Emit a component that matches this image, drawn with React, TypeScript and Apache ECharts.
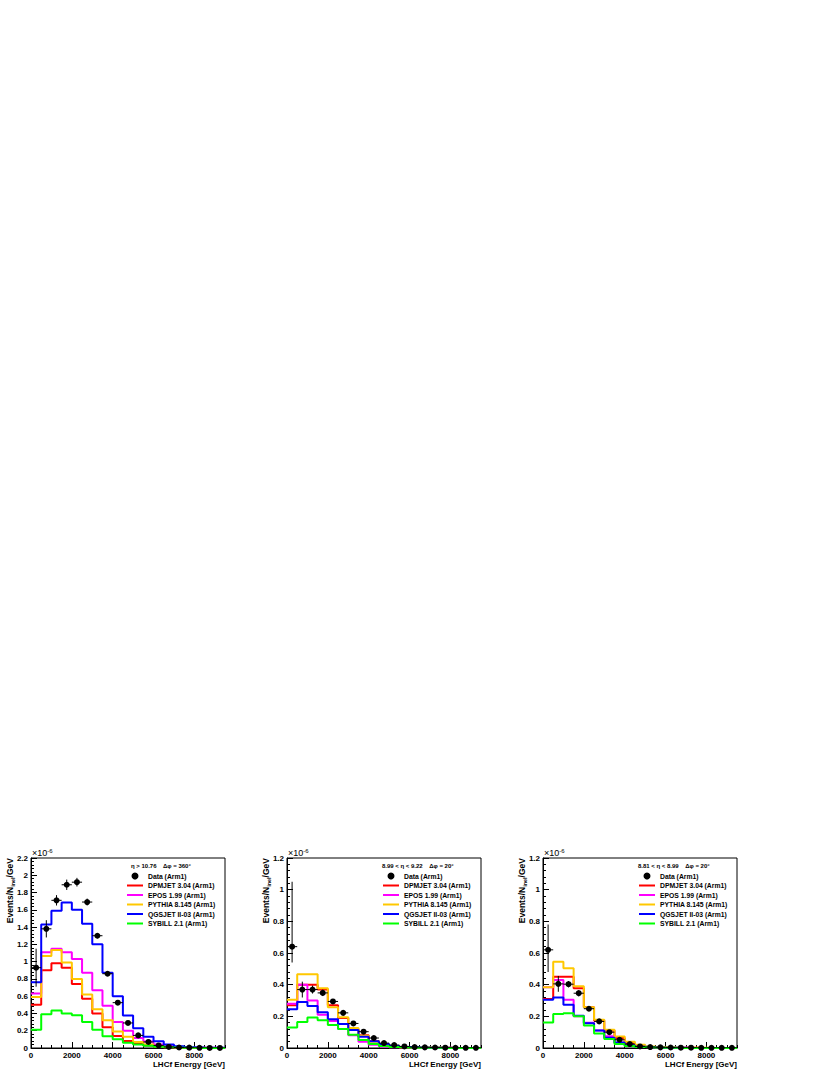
import React, { useEffect, useRef } from "react";
import * as echarts from "echarts";

const FONT = "'Liberation Sans', Arial, Helvetica, sans-serif";

const energyEdges = [0, 500, 1000, 1500, 2000, 2500, 3000, 3500, 4000, 4500, 5000, 5500, 6000, 6500, 7000, 7500, 8000, 8500, 9000, 9500];
const binCenters = [250, 750, 1250, 1750, 2250, 2750, 3250, 3750, 4250, 4750, 5250, 5750, 6250, 6750, 7250, 7750, 8250, 8750, 9250];
const xTickLabels = ["0", "2000", "4000", "6000", "8000"];

const modelNames = ["DPMJET 3.04 (Arm1)", "EPOS 1.99 (Arm1)", "PYTHIA 8.145 (Arm1)", "QGSJET II-03 (Arm1)", "SYBILL 2.1 (Arm1)"];
const modelColors = ["#ff0000", "#ff00ff", "#ffc800", "#0000ff", "#00ff00"];
const dataName = "Data (Arm1)";

const panelTitles = ["\u03b7 > 10.76    \u0394\u03c6 = 360\u00b0", "8.99 < \u03b7 < 9.22    \u0394\u03c6 = 20\u00b0", "8.81 < \u03b7 < 8.99    \u0394\u03c6 = 20\u00b0"];
const yMaxes = [2.2, 1.2, 1.2];

// Panel 1 : eta > 10.76
const data1 = [0.93, 1.38, 1.71, 1.89, 1.92, 1.69, 1.30, 0.86, 0.525, 0.29, 0.146, 0.07, 0.03, 0.012, 0.006, 0.004, 0.002, 0.001, 0.001];
const errLo1 = [0.22, 0.1, 0.06, 0.06, 0.05, 0.04, 0.03, 0.02, 0.02, 0.015, 0.01, 0.008, 0.005, 0.004, 0.003, 0.002, 0.002, 0.001, 0.001];
const errHi1 = [0.22, 0.1, 0.06, 0.06, 0.05, 0.04, 0.03, 0.02, 0.02, 0.015, 0.01, 0.008, 0.005, 0.004, 0.003, 0.002, 0.002, 0.001, 0.001];
const dpmjet1 = [0.50, 0.90, 0.98, 0.93, 0.74, 0.57, 0.40, 0.24, 0.14, 0.08, 0.05, 0.03, 0.015, 0.008, 0.004, 0.002, 0.001, 0.001, 0.0005];
const epos1 = [0.63, 1.11, 1.15, 1.11, 1.03, 0.87, 0.67, 0.49, 0.30, 0.20, 0.115, 0.075, 0.04, 0.02, 0.01, 0.005, 0.003, 0.002, 0.001];
const pythia1 = [0.59, 1.065, 1.135, 0.99, 0.80, 0.62, 0.45, 0.32, 0.19, 0.13, 0.07, 0.04, 0.02, 0.01, 0.005, 0.003, 0.002, 0.001, 0.001];
const qgsjet1 = [0.76, 1.43, 1.59, 1.685, 1.60, 1.44, 1.20, 0.87, 0.60, 0.375, 0.23, 0.13, 0.077, 0.04, 0.02, 0.01, 0.006, 0.003, 0.002];
const sybill1 = [0.21, 0.39, 0.435, 0.40, 0.38, 0.30, 0.21, 0.135, 0.10, 0.06, 0.04, 0.025, 0.015, 0.008, 0.004, 0.002, 0.001, 0.001, 0.0005];

// Panel 2 : 8.99 < eta < 9.22
const data2 = [0.64, 0.369, 0.369, 0.348, 0.294, 0.222, 0.155, 0.103, 0.063, 0.031, 0.019, 0.01, 0.006, 0.004, 0.003, 0.002, 0.001, 0.001, 0.001];
const errLo2 = [0.1, 0.05, 0.025, 0.02, 0.015, 0.012, 0.01, 0.008, 0.006, 0.004, 0.003, 0.002, 0.002, 0.001, 0.001, 0.001, 0.001, 0.001, 0.001];
const errHi2 = [0.41, 0.05, 0.025, 0.02, 0.015, 0.012, 0.01, 0.008, 0.006, 0.004, 0.003, 0.002, 0.002, 0.001, 0.001, 0.001, 0.001, 0.001, 0.001];
const dpmjet2 = [0.27, 0.40, 0.40, 0.37, 0.27, 0.19, 0.12, 0.08, 0.045, 0.02, 0.01, 0.005, 0.003, 0.002, 0.001, 0.001, 0.0005, 0.0003, 0.0002];
const epos2 = [0.28, 0.40, 0.30, 0.21, 0.17, 0.12, 0.08, 0.04, 0.02, 0.01, 0.005, 0.003, 0.002, 0.001, 0.001, 0.0005, 0.0003, 0.0002, 0.0001];
const pythia2 = [0.305, 0.466, 0.466, 0.378, 0.258, 0.195, 0.126, 0.077, 0.04, 0.02, 0.01, 0.005, 0.003, 0.002, 0.001, 0.001, 0.0005, 0.0003, 0.0002];
const qgsjet2 = [0.245, 0.29, 0.265, 0.226, 0.182, 0.151, 0.113, 0.071, 0.043, 0.025, 0.012, 0.007, 0.004, 0.002, 0.001, 0.001, 0.0005, 0.0003, 0.0002];
const sybill2 = [0.13, 0.165, 0.192, 0.176, 0.145, 0.12, 0.084, 0.05, 0.025, 0.012, 0.006, 0.003, 0.002, 0.001, 0.001, 0.0005, 0.0003, 0.0002, 0.0001];

// Panel 3 : 8.81 < eta < 8.99
const data3 = [0.62, 0.405, 0.403, 0.346, 0.248, 0.168, 0.10, 0.052, 0.025, 0.01, 0.006, 0.004, 0.003, 0.002, 0.002, 0.001, 0.001, 0.001, 0.001];
const errLo3 = [0.14, 0.05, 0.02, 0.02, 0.015, 0.012, 0.01, 0.008, 0.005, 0.003, 0.002, 0.002, 0.001, 0.001, 0.001, 0.001, 0.001, 0.001, 0.001];
const errHi3 = [0.16, 0.05, 0.02, 0.02, 0.015, 0.012, 0.01, 0.008, 0.005, 0.003, 0.002, 0.002, 0.001, 0.001, 0.001, 0.001, 0.001, 0.001, 0.001];
const dpmjet3 = [0.31, 0.45, 0.45, 0.378, 0.258, 0.174, 0.11, 0.063, 0.03, 0.014, 0.007, 0.004, 0.002, 0.001, 0.001, 0.0005, 0.0003, 0.0002, 0.0001];
const epos3 = [0.384, 0.43, 0.304, 0.20, 0.16, 0.11, 0.075, 0.033, 0.015, 0.007, 0.003, 0.002, 0.001, 0.001, 0.0005, 0.0003, 0.0002, 0.0001, 0.0001];
const pythia3 = [0.384, 0.545, 0.503, 0.39, 0.258, 0.178, 0.115, 0.073, 0.04, 0.02, 0.01, 0.005, 0.003, 0.002, 0.001, 0.001, 0.0005, 0.0003, 0.0002];
const qgsjet3 = [0.304, 0.319, 0.273, 0.203, 0.157, 0.111, 0.065, 0.035, 0.017, 0.008, 0.004, 0.002, 0.001, 0.001, 0.0005, 0.0003, 0.0002, 0.0001, 0.0001];
const sybill3 = [0.161, 0.214, 0.22, 0.20, 0.142, 0.092, 0.057, 0.025, 0.012, 0.006, 0.003, 0.001, 0.001, 0.0005, 0.0003, 0.0002, 0.0001, 0.0001, 0.0001];

const panelData = [
  { data: data1, lo: errLo1, hi: errHi1, models: [dpmjet1, epos1, pythia1, qgsjet1, sybill1] },
  { data: data2, lo: errLo2, hi: errHi2, models: [dpmjet2, epos2, pythia2, qgsjet2, sybill2] },
  { data: data3, lo: errLo3, hi: errHi3, models: [dpmjet3, epos3, pythia3, qgsjet3, sybill3] },
];

// layout (pixels)
const gridLefts = [31, 287, 543];
const gridTop = 858;
const gridW = 194;
const gridH = 190;
const LINE_ICON = "path://M0,0M0,2.5L16,2.5L16,4.5L0,4.5ZM16,7";

function buildOption() {
  const grid: any[] = [];
  const xAxis: any[] = [];
  const yAxis: any[] = [];
  const series: any[] = [];
  const legend: any[] = [];
  const title: any[] = [];
  const graphic: any[] = [];

  panelData.forEach((p, i) => {
    const left = gridLefts[i];
    grid.push({ left, top: gridTop, width: gridW, height: gridH, show: true, borderColor: "#000", borderWidth: 1, backgroundColor: "transparent" });
    xAxis.push({
      gridIndex: i, type: "value", min: energyEdges[0], max: energyEdges[energyEdges.length - 1], interval: 2000, position: "bottom",
      axisLine: { show: true, onZero: false, lineStyle: { color: "#000", width: 1 } },
      axisTick: { show: true, inside: true, length: 6, lineStyle: { color: "#000", width: 1 } },
      axisLabel: {
        show: true, color: "#000", fontSize: 8, fontWeight: "bold", fontFamily: FONT, margin: 3, showMaxLabel: false,
        formatter: (v: number) => { const s = String(Math.round(v)); return xTickLabels.indexOf(s) >= 0 ? s : ""; },
      },
      splitLine: { show: false },
    });
    xAxis.push({
      gridIndex: i, type: "value", min: energyEdges[0], max: energyEdges[energyEdges.length - 1], interval: 500, position: "bottom",
      axisLine: { show: false }, axisTick: { show: true, inside: true, length: 3, lineStyle: { color: "#000", width: 1 } },
      axisLabel: { show: false }, splitLine: { show: false },
    });
    yAxis.push({
      gridIndex: i, type: "value", min: 0, max: yMaxes[i], interval: 0.2,
      axisLine: { show: true, onZero: false, lineStyle: { color: "#000", width: 1 } },
      axisTick: { show: true, inside: true, length: 6, lineStyle: { color: "#000", width: 1 } },
      minorTick: { show: true, splitNumber: 5, length: 3, lineStyle: { color: "#000", width: 1 } },
      axisLabel: { color: "#000", fontSize: 8, fontWeight: "bold", fontFamily: FONT, margin: 3, formatter: (v: number) => String(+v.toFixed(1)) },
      splitLine: { show: false },
    });

    p.models.forEach((vals, m) => {
      const pts: number[][] = vals.map((v, k) => [energyEdges[k], v]);
      pts.push([energyEdges[vals.length], vals[vals.length - 1]]);
      series.push({
        type: "line", name: modelNames[m], xAxisIndex: 2 * i, yAxisIndex: i, step: "end", symbol: "none", showSymbol: false,
        data: pts, lineStyle: { color: modelColors[m], width: 2 }, itemStyle: { color: modelColors[m] }, z: 2 + m * 0.1, clip: true,
      });
    });

    series.push({
      type: "custom", name: "errors" + i, xAxisIndex: 2 * i, yAxisIndex: i, z: 4, clip: true,
      data: p.data.map((v, k) => [binCenters[k], v, p.lo[k], p.hi[k], energyEdges[k], energyEdges[k + 1]]),
      encode: { x: 0, y: 1 },
      renderItem: (params: any, api: any) => {
        const x = api.value(0), y = api.value(1), lo = api.value(2), hi = api.value(3), x0 = api.value(4), x1 = api.value(5);
        const a = api.coord([x0, y]), b = api.coord([x1, y]);
        const c = api.coord([x, y - lo]), d = api.coord([x, y + hi]);
        return {
          type: "group",
          children: [
            { type: "line", shape: { x1: a[0], y1: a[1], x2: b[0], y2: b[1] }, style: { stroke: "#000", lineWidth: 1 } },
            { type: "line", shape: { x1: c[0], y1: c[1], x2: d[0], y2: d[1] }, style: { stroke: "#000", lineWidth: 1 } },
          ],
        };
      },
    });
    series.push({
      type: "scatter", name: dataName, xAxisIndex: 2 * i, yAxisIndex: i, symbol: "circle", symbolSize: 6, z: 5,
      data: p.data.map((v, k) => [binCenters[k], v]), itemStyle: { color: "#000", opacity: 1 },
    });

    const legLeft = [127, 383, 639][i];
    legend.push({
      orient: "vertical", left: legLeft, top: 872.5, padding: 0, itemWidth: 16, itemHeight: 7, itemGap: 2.5, selectedMode: false,
      data: [
        { name: dataName, icon: "circle", itemStyle: { color: "#000", opacity: 1 } },
        ...modelNames.map((n, m) => ({ name: n, icon: LINE_ICON, itemStyle: { color: modelColors[m] } })),
      ],
      textStyle: { fontSize: 6.8, fontWeight: "bold", fontFamily: FONT, color: "#000" },
    });
    title.push({
      text: panelTitles[i], left: [131, 382, 638][i], top: 863, padding: 0,
      textStyle: { fontSize: 6, fontWeight: "bold", fontFamily: FONT, color: "#000" },
    });

    graphic.push({
      type: "text", x: left - 21, y: gridTop, rotation: Math.PI / 2,
      style: {
        text: "{a|Events/N}{s|inel}{a|/GeV}", align: "right", verticalAlign: "middle",
        rich: {
          a: { fontSize: 8.5, fontWeight: "bold", fontFamily: FONT, fill: "#000", lineHeight: 11 },
          s: { fontSize: 5.5, fontWeight: "bold", fontFamily: FONT, fill: "#000", lineHeight: 6, verticalAlign: "bottom" },
        },
      },
    });
    graphic.push({
      type: "text", x: left + 1, y: gridTop - 5,
      style: {
        text: "{a|\u00d710}{s|-6}", align: "left", verticalAlign: "middle",
        rich: {
          a: { fontSize: 9, fontFamily: FONT, fill: "#000", lineHeight: 11 },
          s: { fontSize: 6, fontFamily: FONT, fill: "#000", lineHeight: 7, verticalAlign: "top" },
        },
      },
    });
    graphic.push({
      type: "text", x: left + gridW, y: 1064,
      style: { text: "LHCf Energy [GeV]", align: "right", verticalAlign: "middle", fontSize: 8, fontWeight: "bold", fontFamily: FONT, fill: "#000" },
    });
  });

  return { animation: false, backgroundColor: "#fff", grid, xAxis, yAxis, series, legend, title, graphic };
}

export default function App() {
  const ref = useRef<HTMLDivElement>(null);
  useEffect(() => {
    if (!ref.current) return;
    const chart = echarts.init(ref.current, undefined, { renderer: "svg" });
    chart.setOption(buildOption() as any);
    return () => chart.dispose();
  }, []);
  return <div ref={ref} style={{ position: "fixed", left: 0, top: 0, width: 830, height: 1075, background: "#fff" }} />;
}
